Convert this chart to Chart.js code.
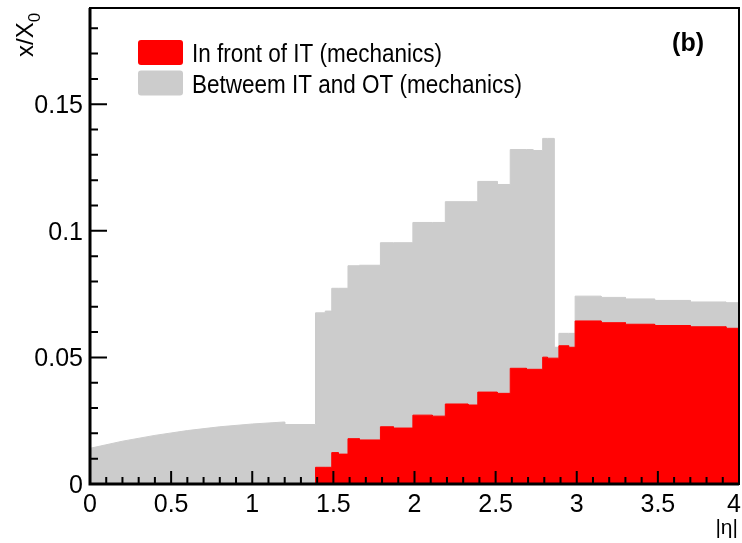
<!DOCTYPE html>
<html>
<head>
<meta charset="utf-8">
<title>x/X0 vs |eta|</title>
<script src="https://cdn.jsdelivr.net/npm/chart.js@4.4.1/dist/chart.umd.min.js"></script>
<style>
  html, body { margin: 0; padding: 0; background: #fff; }
  #wrap { width: 742px; height: 543px; }
</style>
</head>
<body>
<div id="wrap"><canvas id="chart" width="742" height="543"></canvas></div>
<script>
// smooth part of the gray band (|eta| < 1.2)
const curveEta = [0, 0.2, 0.4, 0.6, 0.8, 1.0, 1.2];
const curveTotal = [0.0141, 0.0169, 0.0192, 0.0211, 0.0226, 0.0237, 0.0245];

// histogram bins from 1.2 to 4
const binEdges = [1.2, 1.39, 1.45, 1.49, 1.53, 1.59, 1.66, 1.79, 1.87, 1.99, 2.11, 2.19, 2.33, 2.39,
                  2.51, 2.59, 2.69, 2.73, 2.79, 2.82, 2.86, 2.89, 2.95, 2.99, 3.15, 3.3, 3.48, 3.7, 3.92, 4.0];
// red: in front of IT
const frontIT = [0, 0.0066, 0.0066, 0.0124, 0.0118, 0.0179, 0.0174, 0.0226, 0.0221, 0.0272, 0.0268,
                 0.0316, 0.0312, 0.0363, 0.0358, 0.0457, 0.0453, 0.0453, 0.0501, 0.0497, 0.0497,
                 0.0546, 0.0540, 0.0644, 0.0637, 0.0631, 0.0626, 0.0621, 0.0615];
// gray top = in front of IT + between IT and OT (stacked)
const totalMat = [0.0235, 0.0676, 0.0683, 0.0773, 0.0773, 0.0862, 0.0864, 0.0953, 0.0953, 0.1033, 0.1033,
                  0.1115, 0.1115, 0.1195, 0.1183, 0.1321, 0.1321, 0.1317, 0.1365, 0.1365, 0.0540,
                  0.0595, 0.0595, 0.0742, 0.0737, 0.0731, 0.0725, 0.0719, 0.0716];

const xTicks = [0, 0.5, 1, 1.5, 2, 2.5, 3, 3.5, 4];
const xTickLabels = ['0', '0.5', '1', '1.5', '2', '2.5', '3', '3.5', '4'];
const yTicks = [0, 0.05, 0.1, 0.15];
const yTickLabels = ['0', '0.05', '0.1', '0.15'];

const seriesNames = ['In front of IT (mechanics)', 'Betweem IT and OT (mechanics)'];
const seriesColors = ['#ff0000', '#cccccc'];

const FONT = '"Liberation Sans", Arial, Helvetica, sans-serif';

// turn bin contents into a step outline
function histPoints(values) {
    const pts = [];
    for (let i = 0; i < values.length; i++) {
        pts.push({ x: binEdges[i], y: values[i] });
        pts.push({ x: binEdges[i + 1], y: values[i] });
    }
    return pts;
}

const grayPoints = curveEta.map((e, i) => ({ x: e, y: curveTotal[i] })).concat(histPoints(totalMat));
const redPoints = histPoints(frontIT);

// ROOT like frame, inward ticks, labels, titles and legend
const rootStyle = {
    id: 'rootStyle',
    afterDraw(chart) {
        const ctx = chart.ctx;
        const a = chart.chartArea;
        const xs = chart.scales.x;
        const ys = chart.scales.y;
        ctx.save();

        // frame
        ctx.strokeStyle = '#000';
        ctx.lineWidth = 2;
        ctx.strokeRect(a.left, a.top, a.right - a.left, a.bottom - a.top);
        ctx.lineWidth = 3;
        ctx.beginPath();
        ctx.moveTo(a.left, a.top);
        ctx.lineTo(a.left, a.bottom);
        ctx.lineTo(a.right, a.bottom);
        ctx.stroke();

        // ticks
        ctx.lineWidth = 2;
        ctx.beginPath();
        for (let i = 0; i <= 40; i++) {
            const px = xs.getPixelForValue(i / 10);
            const len = i % 5 === 0 ? 13 : 7;
            ctx.moveTo(px, a.bottom);
            ctx.lineTo(px, a.bottom - len);
        }
        for (let i = 0; i <= 18; i++) {
            const py = ys.getPixelForValue(i / 100);
            const len = i % 5 === 0 ? 17 : 8;
            ctx.moveTo(a.left, py);
            ctx.lineTo(a.left + len, py);
        }
        ctx.stroke();

        // tick labels
        ctx.fillStyle = '#000';
        ctx.font = '25px ' + FONT;
        ctx.textAlign = 'right';
        ctx.textBaseline = 'middle';
        yTicks.forEach((v, i) => {
            ctx.fillText(yTickLabels[i], a.left - 7, ys.getPixelForValue(v) + 2);
        });
        ctx.textAlign = 'center';
        ctx.textBaseline = 'top';
        xTicks.forEach((v, i) => {
            const w = ctx.measureText(xTickLabels[i]).width;
            const px = Math.min(xs.getPixelForValue(v), chart.width - 1 - w / 2);
            ctx.fillText(xTickLabels[i], px, a.bottom + 9);
        });

        // axis titles
        ctx.save();
        ctx.translate(33, 57);
        ctx.rotate(-Math.PI / 2);
        ctx.textAlign = 'left';
        ctx.textBaseline = 'alphabetic';
        ctx.font = '24px ' + FONT;
        ctx.fillText('x/X', 0, 0);
        const tw = ctx.measureText('x/X').width;
        ctx.font = '17px ' + FONT;
        ctx.fillText('0', tw, 7);
        ctx.restore();

        ctx.font = '21px ' + FONT;
        ctx.textAlign = 'right';
        ctx.textBaseline = 'alphabetic';
        ctx.fillText('|η|', 738, 534);

        // panel label
        ctx.font = 'bold 25px ' + FONT;
        ctx.fillText('(b)', 704, 51);

        // legend (text is a little taller than wide in the original)
        ctx.textAlign = 'left';
        ctx.font = '22.5px ' + FONT;
        seriesNames.forEach((name, i) => {
            const top = 40 + i * 30.5;
            ctx.fillStyle = seriesColors[i];
            ctx.beginPath();
            ctx.roundRect(138, top, 45, 25, 3);
            ctx.fill();
            ctx.fillStyle = '#000';
            ctx.save();
            ctx.translate(192, top + 22);
            ctx.scale(1, 1.12);
            ctx.fillText(name, 0, 0);
            ctx.restore();
        });

        ctx.restore();
    }
};

new Chart(document.getElementById('chart'), {
    type: 'line',
    data: {
        datasets: [
            {
                label: seriesNames[0],
                data: redPoints,
                backgroundColor: seriesColors[0],
                borderColor: seriesColors[0],
                borderWidth: 1,
                fill: 'origin',
                pointRadius: 0,
                tension: 0
            },
            {
                label: seriesNames[1],
                data: grayPoints,
                backgroundColor: seriesColors[1],
                borderColor: seriesColors[1],
                borderWidth: 1,
                fill: 'origin',
                pointRadius: 0,
                tension: 0
            }
        ]
    },
    options: {
        responsive: false,
        animation: false,
        devicePixelRatio: 1,
        layout: { padding: { left: 90, right: 3, top: 8, bottom: 59 } },
        plugins: {
            legend: { display: false },
            tooltip: { enabled: false }
        },
        scales: {
            x: { type: 'linear', min: 0, max: 4, display: false },
            y: { type: 'linear', min: 0, max: 0.188, display: false }
        }
    },
    plugins: [rootStyle]
});
</script>
</body>
</html>
